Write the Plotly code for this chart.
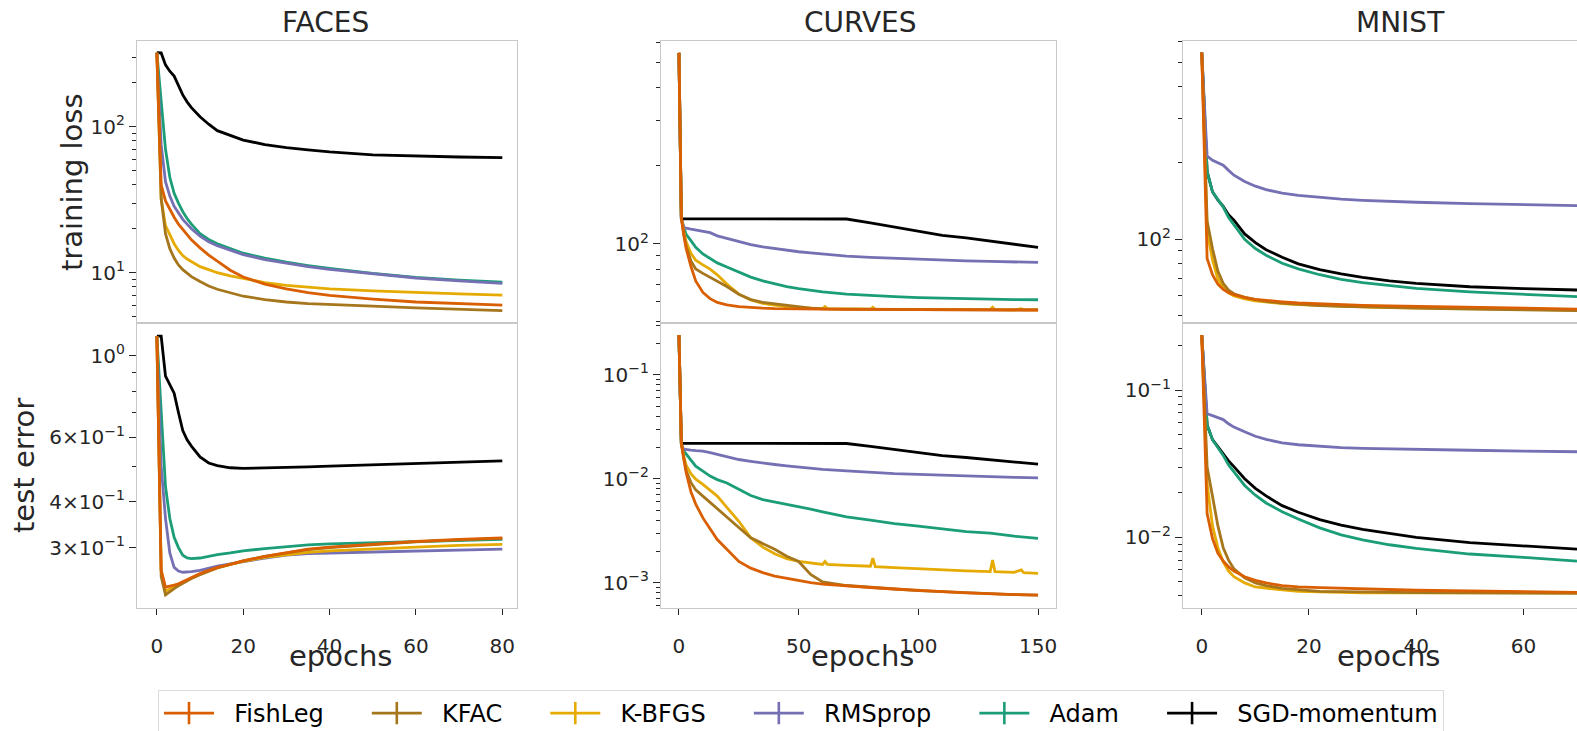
import math
import plotly.graph_objects as go

# ---------------- data ----------------
names = ["FishLeg", "KFAC", "K-BFGS", "RMSprop", "Adam", "SGD-momentum"]
colors = ["#d95f02", "#a6761d", "#e6ab02", "#7570b3", "#1b9e77", "#000000"]

# FACES
faces_epochs = [0, 1, 2, 3, 4, 5, 6, 7, 8, 10, 12, 14, 17, 20, 25, 30, 35, 40, 50, 60, 70, 80]
faces_train_fishleg = [321, 40, 31, 27.2, 24, 21.5, 19.8, 18.2, 16.8, 14.8, 13.2, 12, 10.4, 9.35, 8.35, 7.75, 7.3, 7.0, 6.6, 6.3, 6.15, 6.0]
faces_train_kfac = [321, 32, 18.5, 14.6, 12.6, 11.3, 10.5, 9.9, 9.4, 8.7, 8.1, 7.7, 7.25, 6.9, 6.55, 6.3, 6.15, 6.05, 5.9, 5.75, 5.6, 5.5]
faces_train_kbfgs = [321, 32, 21, 18, 15.8, 14.2, 13.1, 12.4, 11.9, 11.0, 10.5, 10.0, 9.5, 9.1, 8.55, 8.2, 7.95, 7.75, 7.5, 7.3, 7.15, 7.03]
faces_train_rmsprop = [321, 75, 42, 33.5, 28.5, 25.5, 23.2, 21.5, 20, 17.8, 16.3, 15.3, 14.2, 13.3, 12.3, 11.6, 11.0, 10.55, 9.8, 9.2, 8.8, 8.45]
faces_train_adam = [321, 150, 70, 45, 35, 30, 26.2, 23.5, 21.5, 18.5, 16.9, 15.8, 14.6, 13.6, 12.6, 11.8, 11.2, 10.7, 9.9, 9.3, 8.9, 8.6]
faces_train_sgd = [321, 320, 265, 240, 222, 190, 165, 148, 135, 117, 104, 94, 87, 81, 75.5, 72, 69.5, 67.2, 64.2, 62.8, 62, 61.4]

faces_test_fishleg = [1.13, 0.26, 0.234, 0.235, 0.237, 0.239, 0.242, 0.245, 0.249, 0.255, 0.26, 0.265, 0.27, 0.276, 0.284, 0.291, 0.297, 0.301, 0.307, 0.312, 0.316, 0.319]
faces_test_kfac = [1.13, 0.25, 0.223, 0.228, 0.232, 0.236, 0.24, 0.243, 0.247, 0.253, 0.259, 0.264, 0.27, 0.276, 0.284, 0.29, 0.296, 0.3, 0.306, 0.311, 0.315, 0.318]
faces_test_kbfgs = [1.13, 0.26, 0.228, 0.232, 0.235, 0.238, 0.241, 0.244, 0.248, 0.254, 0.259, 0.264, 0.27, 0.275, 0.282, 0.287, 0.291, 0.294, 0.298, 0.301, 0.304, 0.306]
faces_test_rmsprop = [1.13, 0.5, 0.36, 0.29, 0.265, 0.259, 0.257, 0.257, 0.258, 0.26, 0.264, 0.267, 0.271, 0.275, 0.281, 0.286, 0.289, 0.29, 0.292, 0.293, 0.295, 0.297]
faces_test_adam = [1.13, 0.7, 0.44, 0.36, 0.32, 0.3, 0.286, 0.281, 0.28, 0.281, 0.284, 0.287, 0.29, 0.294, 0.298, 0.302, 0.305, 0.307, 0.309, 0.311, 0.314, 0.316]
faces_test_sgd = [1.13, 1.13, 0.88, 0.83, 0.79, 0.70, 0.625, 0.59, 0.567, 0.53, 0.51, 0.502, 0.495, 0.493, 0.494, 0.496, 0.498, 0.50, 0.504, 0.509, 0.513, 0.517]

# CURVES
curves_epochs = [0, 1, 2, 3, 5, 7, 10, 13, 16, 20, 25, 30, 35, 40, 45, 50, 55, 60, 70, 80, 90, 100, 110, 120, 130, 140, 150]
curves_kbfgs_epochs = [0, 1, 2, 3, 5, 7, 10, 13, 16, 20, 25, 30, 35, 40, 45, 50, 55, 60, 61, 62, 70, 80, 81, 82, 90, 100, 110, 120, 130, 131, 132, 140, 143, 144, 150]
curves_train_fishleg = [546, 126, 108, 96, 82, 72, 65, 61.5, 59.5, 58.2, 57.3, 56.8, 56.5, 56.3, 56.2, 56.1, 56.0, 56.0, 55.9, 55.9, 55.8, 55.8, 55.7, 55.7, 55.7, 55.6, 55.6]
curves_train_kfac = [546, 126, 110, 98, 86, 80, 77, 74.5, 72, 68.5, 64, 61, 59.5, 58.7, 57.8, 57, 56.5, 56.2, 56, 55.9, 55.9, 55.8, 55.8, 55.8, 55.8, 55.7, 55.7]
curves_train_kbfgs = [546, 126, 112, 102, 92, 86.5, 83, 80, 76, 70, 64, 60.8, 59, 57.9, 57.2, 56.8, 56.5, 56.3, 57.3, 56.3, 56.1, 56.0, 57.0, 56.0, 55.9, 55.9, 55.8, 55.8, 55.8, 57.0, 55.8, 55.7, 56.2, 55.7, 55.7]
curves_train_rmsprop = [546, 125, 116, 115, 114, 113, 112, 110.5, 107.5, 105, 102, 99.5, 97.5, 96, 94.5, 93.3, 92.3, 91.3, 89.8, 88.8, 88, 87.3, 86.7, 86.1, 85.6, 85.2, 84.9]
curves_train_adam = [546, 125, 116, 109, 103, 97, 91.5, 88, 84.5, 81.5, 78, 74.5, 72, 70, 68.5, 67.3, 66.2, 65.3, 64, 63.2, 62.6, 62.1, 61.7, 61.4, 61.2, 61, 60.9]
curves_train_sgd = [546, 125, 125, 125, 125, 125, 125, 125, 125, 125, 125, 125, 125, 125, 125, 125, 125, 125, 124.8, 120.5, 116, 111.5, 108, 105.5, 102.5, 99.5, 97]

curves_test_fishleg = [0.241, 0.0219, 0.0155, 0.0115, 0.0075, 0.0057, 0.0042, 0.0033, 0.0026, 0.0021, 0.0016, 0.00138, 0.00125, 0.00116, 0.0011, 0.00105, 0.001, 0.00097, 0.00093, 0.0009, 0.00087, 0.00084, 0.00082, 0.0008, 0.00078, 0.00077, 0.00076]
curves_test_kfac = [0.241, 0.0219, 0.016, 0.012, 0.0092, 0.0078, 0.0068, 0.0059, 0.0051, 0.0043, 0.0034, 0.0027, 0.0024, 0.0021, 0.0018, 0.0016, 0.0012, 0.00102, 0.00094, 0.0009, 0.00087, 0.00084, 0.00082, 0.0008, 0.00078, 0.00077, 0.00076]
curves_test_kbfgs = [0.241, 0.0219, 0.0165, 0.0135, 0.0112, 0.0099, 0.0088, 0.0078, 0.0068, 0.0053, 0.0039, 0.0027, 0.0022, 0.0019, 0.0017, 0.0016, 0.00155, 0.0015, 0.0016, 0.0015, 0.00147, 0.00144, 0.00172, 0.00143, 0.0014, 0.00136, 0.00132, 0.0013, 0.00128, 0.00165, 0.00128, 0.00126, 0.00133, 0.00125, 0.00123]
curves_test_rmsprop = [0.241, 0.0215, 0.0192, 0.019, 0.0188, 0.0186, 0.0184, 0.0178, 0.0171, 0.0161, 0.0153, 0.0147, 0.0141, 0.0137, 0.0133, 0.0129, 0.0126, 0.0123, 0.0119, 0.0115, 0.0112, 0.011, 0.0108, 0.0106, 0.0104, 0.0103, 0.0102]
curves_test_adam = [0.241, 0.021, 0.0185, 0.0172, 0.015, 0.0132, 0.0118, 0.0106, 0.0098, 0.0091, 0.0079, 0.0069, 0.0063, 0.006, 0.0057, 0.0054, 0.0051, 0.0048, 0.0043, 0.004, 0.0037, 0.0035, 0.0033, 0.0031, 0.003, 0.0028, 0.00267]
curves_test_sgd = [0.241, 0.0219, 0.0219, 0.0219, 0.0219, 0.0219, 0.0219, 0.0219, 0.0219, 0.0219, 0.0219, 0.0219, 0.0219, 0.0219, 0.0219, 0.0219, 0.0219, 0.0219, 0.0218, 0.0205, 0.0192, 0.0178, 0.0167, 0.016, 0.0153, 0.0145, 0.0138]

# MNIST
mnist_epochs = [0, 1, 2, 3, 4, 5, 6, 8, 10, 12, 15, 18, 22, 26, 30, 35, 40, 50, 60, 70]
mnist_train_fishleg = [545, 84, 72.5, 66.5, 63.5, 61.5, 60.5, 59, 58, 57.4, 56.7, 56.1, 55.6, 55.2, 54.9, 54.6, 54.4, 54, 53.5, 53.1]
mnist_train_kfac = [545, 118, 92, 75, 67, 63, 61, 59, 57.8, 56.9, 56, 55.4, 54.8, 54.4, 54.1, 53.8, 53.5, 53.1, 52.7, 52.3]
mnist_train_kbfgs = [545, 108, 83, 70, 64.5, 61.5, 59.8, 58.2, 57.2, 56.5, 55.8, 55.3, 54.8, 54.4, 54.1, 53.8, 53.6, 53.2, 52.9, 52.6]
mnist_train_rmsprop = [545, 213, 205, 200, 196, 187, 179, 169, 162, 157, 152, 149, 146, 144, 142.5, 141, 140, 138.3, 137, 135.8]
mnist_train_adam = [545, 185, 154, 143, 134, 122, 114, 100, 92, 86.5, 80.5, 76.5, 72.5, 69.5, 67.5, 65.5, 64, 62, 60.5, 59.4]
mnist_train_sgd = [545, 185, 154, 143, 135, 125, 119, 105, 97, 91, 85, 80, 76, 73, 70.8, 68.6, 67, 65, 63.9, 63.1]

mnist_test_fishleg = [0.236, 0.0145, 0.0098, 0.0078, 0.0069, 0.0063, 0.0059, 0.0054, 0.0051, 0.0049, 0.0047, 0.0046, 0.00455, 0.0045, 0.00445, 0.0044, 0.00437, 0.00432, 0.00427, 0.00423]
mnist_test_kfac = [0.236, 0.03, 0.019, 0.012, 0.0085, 0.007, 0.0061, 0.0053, 0.0049, 0.0047, 0.0045, 0.0044, 0.0043, 0.00428, 0.00425, 0.00423, 0.00421, 0.0042, 0.00418, 0.00417]
mnist_test_kbfgs = [0.236, 0.023, 0.012, 0.0085, 0.0068, 0.0059, 0.0054, 0.0049, 0.0046, 0.0045, 0.0044, 0.0043, 0.00425, 0.00422, 0.0042, 0.0042, 0.0042, 0.0042, 0.0042, 0.0042]
mnist_test_rmsprop = [0.236, 0.069, 0.067, 0.065, 0.063, 0.059, 0.056, 0.052, 0.0485, 0.0462, 0.0438, 0.0425, 0.0414, 0.0406, 0.0402, 0.0398, 0.0395, 0.039, 0.0385, 0.0381]
mnist_test_adam = [0.236, 0.058, 0.046, 0.041, 0.036, 0.031, 0.028, 0.0225, 0.0193, 0.0171, 0.0149, 0.0133, 0.0116, 0.0104, 0.0096, 0.0089, 0.0084, 0.0077, 0.0073, 0.0069]
mnist_test_sgd = [0.236, 0.058, 0.046, 0.041, 0.037, 0.033, 0.0302, 0.025, 0.0215, 0.0191, 0.0164, 0.0148, 0.0132, 0.0121, 0.0113, 0.0106, 0.01, 0.0092, 0.0087, 0.0083]

dataset_titles = ["FACES", "CURVES", "MNIST"]

# ---------------- figure ----------------
W, H = 1577, 731
FONT = "DejaVu Sans"
FRAME = "#c8c8c8"
TXT = "#262626"

def px_x(p):
    return p / W

def px_y(p):
    return 1 - p / H

col_px = [(137, 517), (661, 1056), (1183, 1577)]
row_px = [(41, 323), (323, 608)]
x_ranges = [[-4.6, 83.4], [-7.5, 157.5], [-3.5, 70.0]]
x_ticks = [[0, 20, 40, 60, 80], [0, 50, 100, 150], [0, 20, 40, 60]]
title_cx = [325, 860, 1400]
xlabel_cx = [340, 862, 1388]

y_log_ranges = [
    [[0.6555, 2.587], [1.695, 2.783], [1.670, 2.782]],
    [[-0.6875, 0.089], [-3.243, -0.503], [-2.48, -0.545]],
]
y_major = [
    [([10, 100], ["10<sup>1</sup>", "10<sup>2</sup>"]),
     ([100], ["10<sup>2</sup>"]),
     ([100], ["10<sup>2</sup>"])],
    [([0.3, 0.4, 0.6, 1.0], ["3×10<sup>−1</sup>", "4×10<sup>−1</sup>", "6×10<sup>−1</sup>", "10<sup>0</sup>"]),
     ([0.001, 0.01, 0.1], ["10<sup>−3</sup>", "10<sup>−2</sup>", "10<sup>−1</sup>"]),
     ([0.01, 0.1], ["10<sup>−2</sup>", "10<sup>−1</sup>"])],
]

def minor_vals(lr, major):
    lo, hi = 10 ** lr[0], 10 ** lr[1]
    out = []
    for e in range(-6, 4):
        for m in range(1, 10):
            v = m * 10.0 ** e
            if lo <= v <= hi and all(abs(v - mj) / mj > 1e-6 for mj in major):
                out.append(v)
    return out

series = {
    (0, 0): (faces_epochs, [faces_train_fishleg, faces_train_kfac, faces_train_kbfgs, faces_train_rmsprop, faces_train_adam, faces_train_sgd]),
    (1, 0): (faces_epochs, [faces_test_fishleg, faces_test_kfac, faces_test_kbfgs, faces_test_rmsprop, faces_test_adam, faces_test_sgd]),
    (0, 1): (curves_epochs, [curves_train_fishleg, curves_train_kfac, curves_train_kbfgs, curves_train_rmsprop, curves_train_adam, curves_train_sgd]),
    (1, 1): (curves_epochs, [curves_test_fishleg, curves_test_kfac, curves_test_kbfgs, curves_test_rmsprop, curves_test_adam, curves_test_sgd]),
    (0, 2): (mnist_epochs, [mnist_train_fishleg, mnist_train_kfac, mnist_train_kbfgs, mnist_train_rmsprop, mnist_train_adam, mnist_train_sgd]),
    (1, 2): (mnist_epochs, [mnist_test_fishleg, mnist_test_kfac, mnist_test_kbfgs, mnist_test_rmsprop, mnist_test_adam, mnist_test_sgd]),
}

fig = go.Figure()
layout = dict(
    width=W, height=H,
    margin=dict(l=0, r=0, t=0, b=0, autoexpand=False),
    paper_bgcolor="white", plot_bgcolor="white",
    font=dict(family=FONT, color=TXT),
    showlegend=True,
)

for r in range(2):
    for c in range(3):
        idx = r * 3 + c + 1
        sfx = "" if idx == 1 else str(idx)
        epochs, vals = series[(r, c)]
        for k in reversed(range(6)):
            xs = epochs
            if c == 1 and k == 2:
                xs = curves_kbfgs_epochs
            fig.add_trace(go.Scatter(
                x=xs, y=vals[k], mode="lines",
                line=dict(color=colors[k], width=2.8),
                xaxis="x" + sfx, yaxis="y" + sfx,
                showlegend=False, hoverinfo="skip",
            ))
        x0, x1 = col_px[c]
        yt, yb = row_px[r]
        xa = dict(
            domain=[px_x(x0), px_x(x1)], range=x_ranges[c], anchor="y" + sfx,
            showgrid=False, zeroline=False, showline=True, linecolor=FRAME, linewidth=1.3,
            mirror=True,
        )
        if r == 0:
            xa.update(showticklabels=False, ticks="")
        else:
            xa.update(ticks="outside", ticklen=6, tickwidth=1.2, tickcolor=TXT,
                      tickmode="array", tickvals=x_ticks[c],
                      ticktext=[str(v) for v in x_ticks[c]],
                      ticklabelstandoff=14,
                      tickfont=dict(size=20, family=FONT, color=TXT))
        lr = y_log_ranges[r][c]
        majv, majt = y_major[r][c]
        ya = dict(
            domain=[px_y(yb), px_y(yt)], type="log", range=lr, anchor="x" + sfx,
            showgrid=False, zeroline=False, showline=True, linecolor=FRAME, linewidth=1.3,
            mirror=(c != 2),
            ticks="outside", ticklen=7, tickwidth=1.2, tickcolor=TXT,
            tickmode="array", tickvals=majv, ticktext=majt,
            tickfont=dict(size=20, family=FONT, color=TXT),
            minor=dict(tickmode="array", tickvals=minor_vals(lr, majv), ticks="outside",
                       ticklen=4, tickwidth=1.0, tickcolor=TXT, showgrid=False),
        )
        layout["xaxis" + sfx] = xa
        layout["yaxis" + sfx] = ya

# legend-only entries (spacing padded with non-breaking spaces)
NB = "\u00a0"
for k in range(6):
    label = NB * 2 + names[k] + (NB * 5 if k < 5 else "")
    fig.add_trace(go.Scatter(
        x=[None], y=[None], mode="lines+markers", name=label,
        line=dict(color=colors[k], width=2.6),
        marker=dict(symbol="line-ns-open", size=25, color=colors[k], line=dict(width=2.6, color=colors[k])),
        xaxis="x", yaxis="y", showlegend=True,
    ))

annotations = []
for c in range(3):
    annotations.append(dict(text=dataset_titles[c], x=px_x(title_cx[c]), y=px_y(22), xref="paper", yref="paper",
                            showarrow=False, xanchor="center", yanchor="middle",
                            font=dict(size=28, family=FONT, color=TXT)))
    annotations.append(dict(text="epochs", x=px_x(xlabel_cx[c]), y=px_y(656), xref="paper", yref="paper",
                            showarrow=False, xanchor="center", yanchor="middle",
                            font=dict(size=29, family=FONT, color=TXT)))
annotations.append(dict(text="training loss", x=px_x(72), y=px_y(182), xref="paper", yref="paper",
                        showarrow=False, textangle=-90, xanchor="center", yanchor="middle",
                        font=dict(size=29, family=FONT, color=TXT)))
annotations.append(dict(text="test error", x=px_x(24), y=px_y(466), xref="paper", yref="paper",
                        showarrow=False, textangle=-90, xanchor="center", yanchor="middle",
                        font=dict(size=29, family=FONT, color=TXT)))
layout["annotations"] = annotations

layout["legend"] = dict(
    orientation="h", x=px_x(801), xanchor="center", y=px_y(690), yanchor="top",
    bordercolor="#dcdcdc", borderwidth=1, bgcolor="white",
    font=dict(size=24, family=FONT, color="black"),
    itemwidth=50, itemclick=False, itemdoubleclick=False,
)

fig.update_layout(**layout)
fig.write_html("out.html")
